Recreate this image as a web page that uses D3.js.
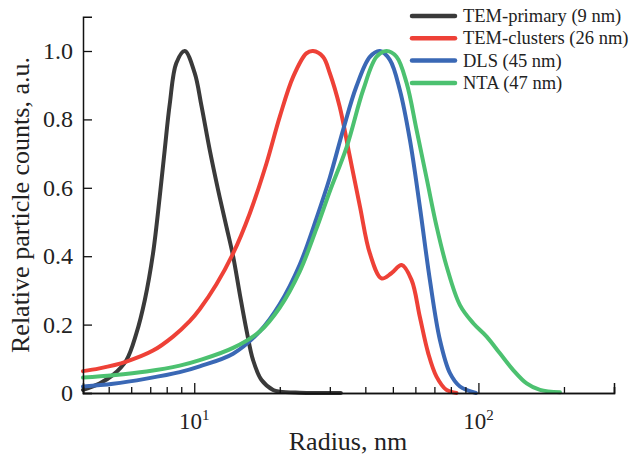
<!DOCTYPE html>
<html lang="en">
    <head>
        <meta charset="utf-8">
        <title>Particle size distributions</title>
        <script type="text/javascript" src="https://cdn.jsdelivr.net/npm/d3@7"></script>
        <style>
            body { margin: 0; background: #fff; }
            text { font-family: "Liberation Serif", "Times New Roman", serif; fill: #222; }
        </style>
    </head>
    <body>
        <script type="text/javascript">
            // radius (nm) and relative counts
            var temPrimaryR = [4.06, 4.64, 5.18, 5.77, 6.26, 6.70, 7.16, 7.56, 7.87, 8.20, 8.65, 9.26, 10.04, 10.6, 11.34, 12.13, 12.98, 13.70, 14.46, 15.27, 16.11, 17.25, 18.95, 20.0, 23.5, 32.8];
            var temPrimaryY = [0.009, 0.028, 0.053, 0.096, 0.175, 0.272, 0.408, 0.574, 0.71, 0.845, 0.965, 1.0, 0.935, 0.84, 0.71, 0.594, 0.486, 0.40, 0.29, 0.184, 0.096, 0.038, 0.009, 0.004, 0.001, 0];

            var temClustersR = [4.06, 4.64, 5.77, 7.16, 8.42, 9.64, 10.45, 11.97, 13.70, 15.68, 17.95, 20.0, 22.3, 24.8, 26.2, 28.4, 30.0, 32.5, 35.3, 38.3, 41.5, 45.6, 49.4, 53.7, 58.2, 62.2, 66.6, 71.2, 77.2, 83.7];
            var temClustersY = [0.064, 0.072, 0.092, 0.124, 0.165, 0.21, 0.245, 0.318, 0.408, 0.525, 0.671, 0.808, 0.925, 0.993, 1.0, 0.983, 0.935, 0.837, 0.69, 0.545, 0.408, 0.335, 0.35, 0.374, 0.33, 0.223, 0.116, 0.048, 0.009, 0];

            var dlsR = [4.06, 5.18, 6.79, 8.89, 10.45, 13.70, 17.0, 20.0, 23.5, 26.9, 30.0, 33.4, 37.2, 41.5, 45.0, 48.8, 52.9, 57.4, 62.2, 67.5, 73.2, 79.4, 86.1, 98];
            var dlsY = [0.019, 0.027, 0.042, 0.061, 0.078, 0.115, 0.18, 0.26, 0.375, 0.51, 0.63, 0.769, 0.896, 0.983, 1.0, 0.974, 0.886, 0.74, 0.545, 0.33, 0.155, 0.058, 0.019, 0];

            var ntaR = [4.06, 5.18, 6.79, 8.89, 10.45, 13.70, 17.0, 20.0, 23.5, 26.9, 30.0, 34.4, 39.3, 43.8, 47.5, 51.5, 55.9, 60.6, 65.9, 71.3, 77.3, 86.1, 95.9, 106.9, 119.0, 132.6, 147.8, 164.7, 193.6];
            var ntaY = [0.045, 0.052, 0.063, 0.08, 0.096, 0.132, 0.18, 0.25, 0.355, 0.48, 0.59, 0.72, 0.886, 0.983, 1.0, 0.983, 0.906, 0.769, 0.623, 0.486, 0.37, 0.257, 0.204, 0.165, 0.116, 0.067, 0.028, 0.009, 0.002];

            var seriesNames = ["TEM-primary (9 nm)", "TEM-clusters (26 nm)", "DLS (45 nm)", "NTA (47 nm)"];
            var seriesColors = ["#3a3a3a", "#ee4137", "#3a68b5", "#4cc170"];
            var yTicks = [0, 0.2, 0.4, 0.6, 0.8, 1.0];
            var xMajor = [10, 100];
            var xMinor = [5, 6, 7, 8, 9, 20, 30, 40, 50, 60, 70, 80, 90, 200, 300];

            var w = 629;
            var h = 458;

            var svg = d3.select("body")
                        .append("svg")
                        .attr("width", w)
                        .attr("height", h);

            var xScale = d3.scaleLog()
                            .domain([4.06, 300])
                            .range([83, 614]);

            var yScale = d3.scaleLinear()
                            .domain([0, 1.1])
                            .range([393, 16.8]);

            var series = [
                d3.zip(temPrimaryR, temPrimaryY),
                d3.zip(temClustersR, temClustersY),
                d3.zip(dlsR, dlsY),
                d3.zip(ntaR, ntaY)
            ];

            var line = d3.line()
                        .x(function(d) { return xScale(d[0]); })
                        .y(function(d) { return Math.min(yScale(0), yScale(d[1])); })
                        .curve(d3.curveCatmullRom.alpha(0.5));

            // curves (black, red, blue, green on top)
            svg.selectAll("path.curve")
                .data(series)
                .enter()
                .append("path")
                .attr("class", "curve")
                .attr("d", line)
                .attr("fill", "none")
                .attr("stroke", function(d, i) { return seriesColors[i]; })
                .attr("stroke-width", 4)
                .attr("stroke-linejoin", "round")
                .attr("stroke-linecap", "round");

            // x axis, ticks pointing inward
            var xAxisMinor = d3.axisTop(xScale)
                                .tickValues(xMinor)
                                .tickSize(6)
                                .tickFormat("");
            var xAxisMajor = d3.axisTop(xScale)
                                .tickValues(xMajor)
                                .tickSize(10)
                                .tickFormat("");
            svg.append("g").attr("transform", "translate(0,393)").call(xAxisMinor);
            svg.append("g").attr("transform", "translate(0,393)").call(xAxisMajor);

            // y axis, ticks pointing inward
            var yAxis = d3.axisRight(yScale)
                            .tickValues(yTicks)
                            .tickSize(9)
                            .tickFormat("");
            svg.append("g").attr("transform", "translate(83,0)").call(yAxis);

            svg.selectAll(".domain")
                .attr("stroke", "#111")
                .attr("stroke-width", 1.5);
            svg.selectAll(".tick line")
                .attr("stroke", "#111")
                .attr("stroke-width", 1.3);

            // y tick labels
            svg.selectAll("text.ylab")
                .data(yTicks)
                .enter()
                .append("text")
                .attr("class", "ylab")
                .attr("x", 73)
                .attr("y", function(d) { return yScale(d) + 8; })
                .attr("text-anchor", "end")
                .attr("font-size", "24px")
                .text(function(d) { return d === 0 ? "0" : d.toFixed(1); });

            // x tick labels 10^1, 10^2
            var xl = svg.selectAll("text.xlab")
                .data(xMajor)
                .enter()
                .append("text")
                .attr("class", "xlab")
                .attr("x", function(d) { return xScale(d); })
                .attr("y", 429)
                .attr("text-anchor", "middle")
                .attr("font-size", "23px");
            xl.append("tspan").text("10");
            xl.append("tspan")
                .attr("dy", -9)
                .attr("font-size", "15px")
                .text(function(d) { return Math.round(Math.log10(d)); });

            // axis titles
            svg.append("text")
                .attr("x", 348)
                .attr("y", 450)
                .attr("text-anchor", "middle")
                .attr("font-size", "26px")
                .text("Radius, nm");

            svg.append("text")
                .attr("transform", "translate(29,205) rotate(-90)")
                .attr("text-anchor", "middle")
                .attr("font-size", "26px")
                .text("Relative particle counts, a.u.");

            // legend
            var legend = svg.selectAll("g.legend")
                .data(seriesNames)
                .enter()
                .append("g")
                .attr("class", "legend")
                .attr("transform", function(d, i) { return "translate(412," + (16 + i * 22.3) + ")"; });
            legend.append("line")
                .attr("x1", 0)
                .attr("x2", 43)
                .attr("stroke", function(d, i) { return seriesColors[i]; })
                .attr("stroke-width", 4.5)
                .attr("stroke-linecap", "round");
            legend.append("text")
                .attr("x", 51)
                .attr("y", 6)
                .attr("font-size", "18.5px")
                .text(function(d) { return d; });
        </script>
    </body>
</html>
